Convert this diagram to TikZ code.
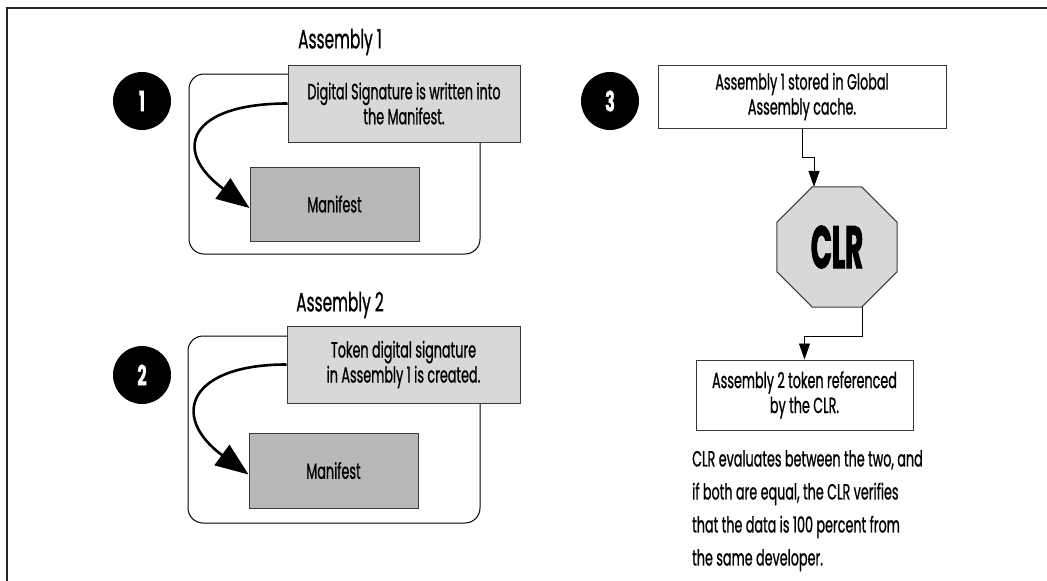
\documentclass[tikz,border=0pt]{standalone}
\usepackage{fontspec}
\setmainfont{Poppins}[FakeStretch=0.58, FakeBold=0.8]
\newfontfamily\clrfont{Poppins}[FakeStretch=0.46, BoldFeatures={FakeBold=1.5}]
\usetikzlibrary{arrows.meta,shapes.geometric,calc}

\definecolor{lightfill}{HTML}{D8D8D8}
\definecolor{darkfill}{HTML}{B8B8B8}
\definecolor{edgegray}{HTML}{3A3A3A}

\tikzset{
  frameline/.style={line width=2pt, black!85},
  container/.style={draw=black, line width=1pt, rounded corners=15pt},
  notebox/.style={draw=edgegray, line width=1pt, fill=lightfill, align=center,
    font=\fontsize{22}{25}\selectfont, inner sep=0pt},
  manbox/.style={draw=edgegray, line width=1pt, fill=darkfill, align=center,
    font=\fontsize{22}{25}\selectfont, inner sep=0pt},
  plainbox/.style={draw=edgegray, line width=1pt, fill=white, align=center,
    font=\fontsize{22}{25}\selectfont, inner sep=0pt},
  asmlabel/.style={font=\fontsize{26.5}{28}\selectfont, inner sep=0pt},
  stepnum/.style={circle, fill=black, text=white, minimum size=58pt, inner sep=0pt,
    font=\bfseries\fontsize{28}{30}\selectfont},
  writearrow/.style={line width=2.6pt, -{Triangle[length=33pt,width=25pt]}},
  flowarrow/.style={line width=0.9pt, -{Triangle[length=16pt,width=11pt]}},
}

\begin{document}
\begin{tikzpicture}[x=1pt,y=-1pt]
  \useasboundingbox (0,0) rectangle (1047,581);
  % outer frame: top and left rules
  \draw[frameline] (1047,8) -- (7,8) -- (7,581);

  % ---- step 1 ----
  \node[stepnum] (n1) at (142,101) {1};
  \node[asmlabel] (a1) at (340,42) {Assembly 1};
  \node[container, minimum width=291pt, minimum height=180pt] (c1) at (334.5,164) {};
  \node[manbox, minimum width=169pt, minimum height=74pt] (m1) at (334.5,204) {Manifest};
  \node[notebox, minimum width=232pt, minimum height=77pt] (s1) at (404,103.5)
    {Digital Signature is written into\\the Manifest.};
  \draw[writearrow] (s1.west) .. controls ([xshift=-98pt]s1.west)
    and ([xshift=-79pt,yshift=54pt]m1.west) .. ([yshift=-4pt]m1.west);

  % ---- step 2 ----
  \node[stepnum] (n2) at (142,375) {2};
  \node[asmlabel] (a2) at (340,305) {Assembly 2};
  \node[container, minimum width=292pt, minimum height=187pt] (c2) at (334,429.5) {};
  \node[manbox, minimum width=169pt, minimum height=75pt] (m2) at (333.5,470.5) {Manifest};
  \node[notebox, minimum width=233pt, minimum height=77pt] (s2) at (403.5,364.5)
    {Token digital signature\\in Assembly 1 is created.};
  \draw[writearrow] (s2.west) .. controls ([xshift=-98pt]s2.west)
    and ([xshift=-79pt,yshift=54pt]m2.west) .. ([yshift=-4pt]m2.west);

  % ---- step 3 ----
  \node[stepnum] (n3) at (610,101) {3};
  \node[plainbox, minimum width=288pt, minimum height=63pt] (gac) at (802,96.5)
    {Assembly 1 stored in Global\\Assembly cache.};
  \node[draw=edgegray, line width=1pt, fill=lightfill, regular polygon, regular polygon sides=8,
    minimum size=130pt, inner sep=0pt, outer sep=0pt,
    font=\clrfont\bfseries\fontsize{60}{62}\selectfont] (clr) at (837,247) {CLR};
  \node[plainbox, minimum width=217pt, minimum height=70pt] (ref) at (804.5,395)
    {Assembly 2 token referenced\\by the CLR.};
  \draw[flowarrow] (gac.south) -- ++(0,29) -| ([xshift=-23pt]clr.north);
  \draw[flowarrow] ([xshift=25pt]clr.south) -- ++(0,29) -| (ref.north);

  \node[anchor=north west, align=left, inner sep=0pt,
    font=\fontsize{22}{33}\selectfont] (note) at (692,450)
    {CLR evaluates between the two, and\\
     if both are equal, the CLR verifies\\
     that the data is 100 percent from\\
     the same developer.};
\end{tikzpicture}
\end{document}
